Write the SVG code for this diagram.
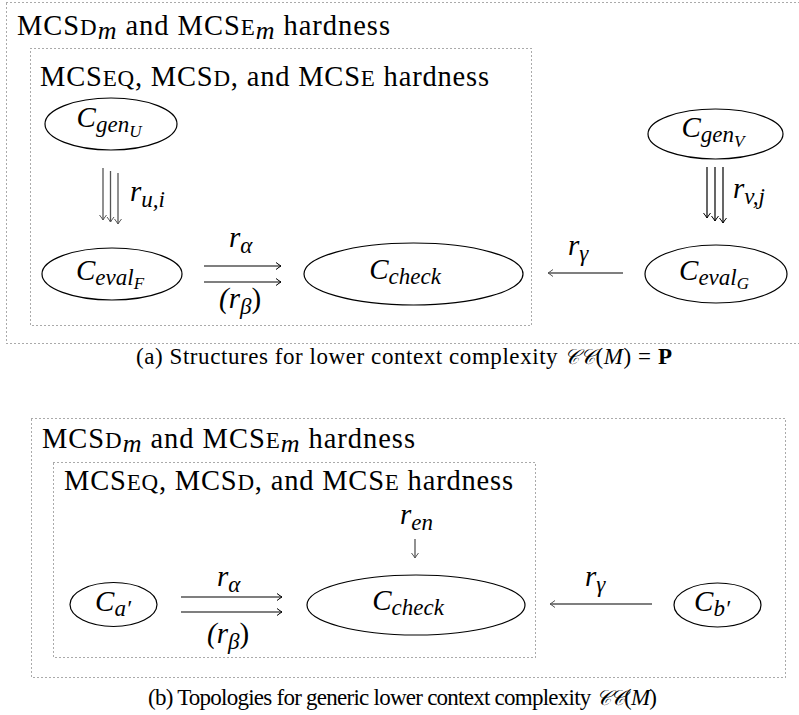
<svg xmlns="http://www.w3.org/2000/svg" width="799" height="715" viewBox="0 0 799 715">
<defs>
<marker id="ahk" markerWidth="10" markerHeight="10" refX="0" refY="0" viewBox="-6 -5 8 10" markerUnits="userSpaceOnUse" orient="auto">
<path d="M-5,-3.5 Q-1.5,-0.8 0,0 Q-1.5,0.8 -5,3.5" fill="none" stroke="#000" stroke-width="1"/>
</marker>
<marker id="ahg" markerWidth="10" markerHeight="10" refX="0" refY="0" viewBox="-6 -5 8 10" markerUnits="userSpaceOnUse" orient="auto">
<path d="M-5,-3.5 Q-1.5,-0.8 0,0 Q-1.5,0.8 -5,3.5" fill="none" stroke="#555" stroke-width="1"/>
</marker>
</defs>
<style>
text{font-family:'Liberation Serif',serif;fill:#000}
.box{fill:none;stroke:#555;stroke-width:1;stroke-dasharray:1 3}
.node{fill:#fff;stroke:#000;stroke-width:1.2}
.title{font-size:28.5px}
.sc{font-size:23px}
.mi{font-size:26px;font-style:italic}
.cap{font-size:23px}
.cal{font-family:'DejaVu Serif',serif;font-style:italic;font-size:21px}
.lab{font-size:29px;font-style:italic}
.sub{font-size:23px;font-style:italic}
.ssub{font-size:17px;font-style:italic}
.ed{fill:none;stroke:#000;stroke-width:1.2}
.edg{fill:none;stroke:#555;stroke-width:1.3}
</style>
<rect width="799" height="715" fill="#fff"/>

<!-- (a) -->
<g id="a-outer">
<rect class="box" x="6.5" y="2.5" width="800" height="341"/>
<text class="title" x="17" y="35" textLength="373" lengthAdjust="spacing">MCS<tspan class="sc">D</tspan><tspan class="mi" dy="4">m</tspan><tspan dy="-4"> and MCS</tspan><tspan class="sc">E</tspan><tspan class="mi" dy="4">m</tspan><tspan dy="-4"> hardness</tspan></text>
</g>
<g id="a-inner">
<rect class="box" x="30.5" y="48.5" width="501" height="277"/>
<text class="title" x="40" y="86" textLength="449" lengthAdjust="spacing">MCS<tspan class="sc">EQ</tspan>, MCS<tspan class="sc">D</tspan>, and MCS<tspan class="sc">E</tspan> hardness</text>
</g>

<g id="a-connectors">
<line class="edg" x1="103" y1="168" x2="103" y2="220" marker-end="url(#ahg)"/>
<line class="edg" x1="110.5" y1="171" x2="110.5" y2="222" marker-end="url(#ahg)"/>
<line class="edg" x1="118" y1="173" x2="118" y2="224" marker-end="url(#ahg)"/>
<text class="lab" x="130" y="201">r<tspan class="sub" dy="6">u,i</tspan></text>
<line class="ed" x1="204" y1="266" x2="281" y2="266" marker-end="url(#ahk)"/>
<line class="ed" x1="204" y1="282" x2="281" y2="282" marker-end="url(#ahk)"/>
<text class="lab" x="229" y="247">r<tspan class="sub" dy="6">α</tspan></text>
<text class="lab" x="219" y="308" font-style="normal">(<tspan font-style="italic">r</tspan><tspan class="sub" dy="6">β</tspan><tspan dy="-6" font-style="normal">)</tspan></text>
<line class="edg" x1="623" y1="273" x2="548" y2="273" marker-end="url(#ahg)"/>
<text class="lab" x="568" y="255">r<tspan class="sub" dy="6">γ</tspan></text>
<line class="ed" x1="707" y1="167" x2="707" y2="218" marker-end="url(#ahk)"/>
<line class="ed" x1="715" y1="167" x2="715" y2="221" marker-end="url(#ahk)"/>
<line class="ed" x1="723" y1="167" x2="723" y2="223" marker-end="url(#ahk)"/>
<text class="lab" x="733" y="198">r<tspan class="sub" dy="6">v,j</tspan></text>
</g>

<g id="a-genU">
<ellipse class="node" cx="111" cy="124" rx="66" ry="26"/>
<text class="lab" x="109" y="127" text-anchor="middle">C<tspan class="sub" dy="5">gen</tspan><tspan class="ssub" dy="5">U</tspan></text>
</g>
<g id="a-evalF">
<ellipse class="node" cx="112" cy="274" rx="70" ry="26"/>
<text class="lab" x="110" y="280" text-anchor="middle">C<tspan class="sub" dy="5">eval</tspan><tspan class="ssub" dy="4">F</tspan></text>
</g>
<g id="a-check">
<ellipse class="node" cx="413.5" cy="274" rx="109.5" ry="31"/>
<text class="lab" x="405" y="279" text-anchor="middle">C<tspan class="sub" dy="5">check</tspan></text>
</g>
<g id="a-evalG">
<ellipse class="node" cx="716" cy="274" rx="71" ry="29"/>
<text class="lab" x="714" y="280" text-anchor="middle">C<tspan class="sub" dy="5">eval</tspan><tspan class="ssub" dy="4">G</tspan></text>
</g>
<g id="a-genV">
<ellipse class="node" cx="715.5" cy="134" rx="67.5" ry="25"/>
<text class="lab" x="713" y="137" text-anchor="middle">C<tspan class="sub" dy="5">gen</tspan><tspan class="ssub" dy="5">V</tspan></text>
</g>

<text class="cap" x="404" y="364" text-anchor="middle" textLength="536" lengthAdjust="spacing">(a) Structures for lower context complexity <tspan class="cal">𝒞𝒞</tspan>(<tspan font-style="italic">M</tspan>) = <tspan font-weight="bold">P</tspan></text>

<!-- (b) -->
<g id="b-outer">
<rect class="box" x="31.5" y="418.5" width="754" height="259"/>
<text class="title" x="42" y="448" textLength="373" lengthAdjust="spacing">MCS<tspan class="sc">D</tspan><tspan class="mi" dy="4">m</tspan><tspan dy="-4"> and MCS</tspan><tspan class="sc">E</tspan><tspan class="mi" dy="4">m</tspan><tspan dy="-4"> hardness</tspan></text>
</g>
<g id="b-inner">
<rect class="box" x="53.5" y="462.5" width="482" height="195"/>
<text class="title" x="64" y="490" textLength="449" lengthAdjust="spacing">MCS<tspan class="sc">EQ</tspan>, MCS<tspan class="sc">D</tspan>, and MCS<tspan class="sc">E</tspan> hardness</text>
</g>

<g id="b-connectors">
<text class="lab" x="400" y="524">r<tspan class="sub" dy="6">en</tspan></text>
<line class="edg" x1="415" y1="539" x2="415" y2="558" marker-end="url(#ahg)"/>
<line class="ed" x1="181" y1="597" x2="282" y2="597" marker-end="url(#ahk)"/>
<line class="ed" x1="181" y1="612" x2="282" y2="612" marker-end="url(#ahk)"/>
<text class="lab" x="217" y="586">r<tspan class="sub" dy="6">α</tspan></text>
<text class="lab" x="207" y="643" font-style="normal">(<tspan font-style="italic">r</tspan><tspan class="sub" dy="6">β</tspan><tspan dy="-6" font-style="normal">)</tspan></text>
<line class="edg" x1="652" y1="604" x2="550" y2="604" marker-end="url(#ahg)"/>
<text class="lab" x="585" y="586">r<tspan class="sub" dy="6">γ</tspan></text>
</g>

<g id="b-a">
<ellipse class="node" cx="113.5" cy="604.5" rx="43.5" ry="22"/>
<text class="lab" x="113" y="611" text-anchor="middle">C<tspan class="sub" dy="5">a′</tspan></text>
</g>
<g id="b-check">
<ellipse class="node" cx="416" cy="605" rx="109" ry="30"/>
<text class="lab" x="408" y="610" text-anchor="middle">C<tspan class="sub" dy="5">check</tspan></text>
</g>
<g id="b-b">
<ellipse class="node" cx="717.5" cy="605" rx="43.5" ry="22"/>
<text class="lab" x="712" y="611" text-anchor="middle">C<tspan class="sub" dy="5">b′</tspan></text>
</g>

<text class="cap" x="402.5" y="705" text-anchor="middle" textLength="509" lengthAdjust="spacing">(b) Topologies for generic lower context complexity <tspan class="cal">𝒞𝒞</tspan>(<tspan font-style="italic">M</tspan>)</text>
</svg>
